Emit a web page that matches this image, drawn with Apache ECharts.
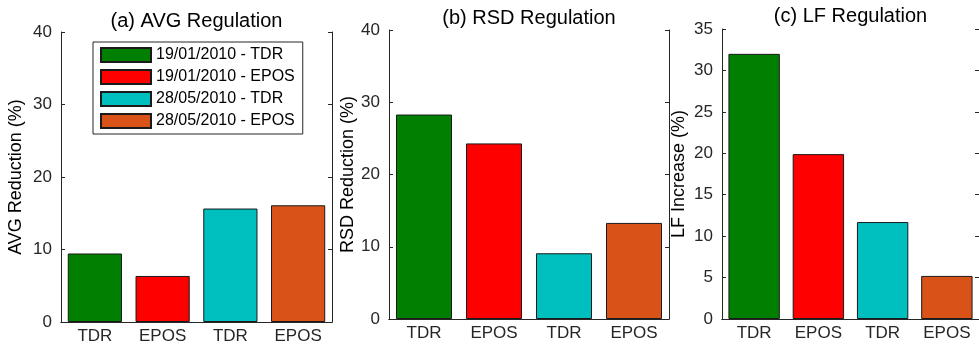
<!DOCTYPE html>
<html>
<head>
<meta charset="utf-8">
<script src="https://cdn.jsdelivr.net/npm/echarts@6/dist/echarts.min.js"></script>
<style>
  html, body { margin: 0; padding: 0; background: #fff; }
  #chart { width: 979px; height: 350px; }
</style>
</head>
<body>
<div id="chart"></div>
<script>
// bar labels and legend entries
var categories = ['TDR', 'EPOS', 'TDR', 'EPOS'];
var seriesNames = ['19/01/2010 - TDR', '19/01/2010 - EPOS', '28/05/2010 - TDR', '28/05/2010 - EPOS'];
var barColors = ['#007f00', '#ff0000', '#00bfbf', '#d95319'];

// values per panel (%)
var avgReduction = [9.45, 6.35, 15.65, 16.1];
var rsdReduction = [28.3, 24.3, 9.1, 13.3];
var lfIncrease = [32.0, 19.9, 11.7, 5.2];

var titles = ['(a) AVG Regulation', '(b) RSD Regulation', '(c) LF Regulation'];
var yNames = ['AVG Reduction (%)', 'RSD Reduction (%)', 'LF Increase (%)'];
var yMax = [40, 40, 35];
var yStep = [10, 10, 5];

var panels = [
  { left: 61, top: 32, width: 271, height: 290, nameGap: 36, titleGap: 1, values: avgReduction },
  { left: 389, top: 30, width: 280, height: 289, nameGap: 32, titleGap: 2, values: rsdReduction },
  { left: 722, top: 29, width: 257, height: 290, nameGap: 34, titleGap: 3, values: lfIncrease }
];

var ink = '#262626';
var font = 'Liberation Sans, Arial, Helvetica, sans-serif';

var grid = [], xAxis = [], yAxis = [], series = [];

panels.forEach(function (p, k) {
  grid.push({ left: p.left, top: p.top, width: p.width, height: p.height, outerBoundsMode: 'none' });

  // bottom axis with labels
  xAxis.push({
    type: 'category', gridIndex: k, position: 'bottom', data: categories,
    axisLine: { lineStyle: { color: ink, width: 1 } },
    axisTick: { inside: true, length: 4, alignWithLabel: true, lineStyle: { color: ink } },
    axisLabel: { color: ink, fontSize: 17, fontFamily: font, margin: 6 }
  });
  // top axis: box edge, ticks and the panel title (labels kept but blank so ticks align)
  xAxis.push({
    type: 'category', gridIndex: k, position: 'top', data: categories,
    name: titles[k], nameLocation: 'middle', nameGap: p.titleGap, nameMoveOverlap: false,
    nameTextStyle: { color: '#000', fontSize: 20, fontFamily: font },
    axisLine: { lineStyle: { color: ink, width: 1 } },
    axisTick: { inside: true, length: 4, alignWithLabel: true, lineStyle: { color: ink } },
    axisLabel: { show: true, fontSize: 1, margin: 0, formatter: function () { return ' '; } }
  });

  yAxis.push({
    type: 'value', gridIndex: k, position: 'left', min: 0, max: yMax[k], interval: yStep[k],
    name: yNames[k], nameLocation: 'middle', nameGap: p.nameGap, nameMoveOverlap: false,
    nameTextStyle: { color: '#000', fontSize: 18, fontFamily: font },
    axisLine: { show: true, lineStyle: { color: ink, width: 1 } },
    axisTick: { show: true, inside: true, length: 4, lineStyle: { color: ink } },
    axisLabel: { color: ink, fontSize: 17, fontFamily: font, margin: 9 },
    splitLine: { show: false }
  });
  yAxis.push({
    type: 'value', gridIndex: k, position: 'right', min: 0, max: yMax[k], interval: yStep[k],
    axisLine: { show: true, lineStyle: { color: ink, width: 1 } },
    axisTick: { show: true, inside: true, length: 4, lineStyle: { color: ink } },
    axisLabel: { show: false },
    splitLine: { show: false }
  });

  // one series per bar so every bar gets its own legend entry
  seriesNames.forEach(function (name, i) {
    var data = categories.map(function (c, j) { return j === i ? p.values[j] : '-'; });
    series.push({
      type: 'bar', name: name, xAxisIndex: k * 2, yAxisIndex: k * 2,
      data: data, barWidth: '80%', barGap: '-100%',
      itemStyle: { color: barColors[i], borderColor: '#1a1a1a', borderWidth: 1 },
      emphasis: { disabled: true },
      animation: false
    });
  });
});

var chart = echarts.init(document.getElementById('chart'));
chart.setOption({
  animation: false,
  backgroundColor: '#fff',
  grid: grid,
  xAxis: xAxis,
  yAxis: yAxis,
  legend: {
    data: seriesNames, orient: 'vertical', left: 93, top: 42,
    icon: 'rect', itemWidth: 50, itemHeight: 14, itemGap: 6,
    padding: [5, 8, 5, 7], selectedMode: false,
    backgroundColor: '#fff', borderColor: ink, borderWidth: 1,
    textStyle: { color: '#000', fontSize: 16, fontFamily: font }
  },
  series: series
});
</script>
</body>
</html>
